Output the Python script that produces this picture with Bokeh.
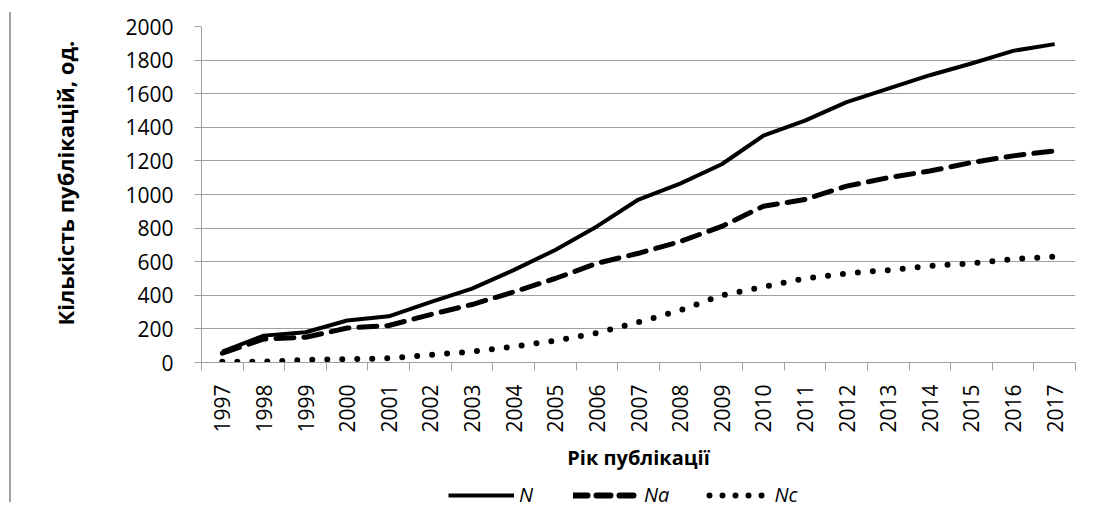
from bokeh.plotting import figure
from bokeh.models import FixedTicker, Legend, LegendItem, ColumnDataSource, Range1d, Div
from bokeh.layouts import row, column
from bokeh.embed import file_html
from bokeh.resources import INLINE
import math

years = [str(y) for y in range(1997, 2018)]
N = [65, 160, 180, 250, 275, 360, 440, 550, 670, 810, 970, 1065, 1180, 1350, 1440, 1550, 1630, 1710, 1780, 1855, 1895]
Na = [55, 140, 150, 205, 220, 285, 345, 420, 500, 590, 650, 720, 810, 930, 970, 1050, 1100, 1140, 1190, 1230, 1260]
Nc = [5, 5, 15, 20, 25, 45, 65, 95, 130, 175, 240, 310, 400, 450, 500, 530, 550, 575, 590, 615, 630]
y_ticks = list(range(0, 2001, 200))
series_names = ["N", "Na", "Nc"]

xs = [i + 0.5 for i in range(len(years))]
src = ColumnDataSource(dict(x=xs, N=N, Na=Na, Nc=Nc))

FONT = "Open Sans"
GREY = "#a0a0a0"

p = figure(width=1078, height=474, output_backend="svg", toolbar_location=None,
           x_range=Range1d(0, len(years)), y_range=Range1d(0, 2000),
           min_border_left=190, min_border_right=14, min_border_top=26, min_border_bottom=112)
p.outline_line_color = None
p.xgrid.grid_line_color = None
p.ygrid.grid_line_color = GREY
p.ygrid.grid_line_width = 1

p.line("x", "N", source=src, line_color="black", line_width=4, line_join="round")
p.line("x", "Na", source=src, line_color="black", line_width=5, line_dash="18 10", line_cap="round", line_join="round")
p.line("x", "Nc", source=src, line_color="black", line_width=6, line_dash="0 15", line_cap="round")

# x axis
p.xaxis.ticker = FixedTicker(ticks=xs, minor_ticks=list(range(len(years) + 1)))
p.xaxis.major_label_overrides = {x: y for x, y in zip(xs, years)}
p.xaxis.major_label_orientation = math.pi / 2
p.xaxis.major_tick_out = 0
p.xaxis.major_tick_in = 0
p.xaxis.minor_tick_out = 8
p.xaxis.minor_tick_in = 0
p.xaxis.minor_tick_line_color = GREY
p.xaxis.axis_line_color = GREY
p.xaxis.major_label_text_font = FONT
p.xaxis.major_label_text_font_size = "21px"
p.xaxis.major_label_text_color = "black"
p.xaxis.major_label_standoff = 14
p.xaxis.axis_label = "Рік публікації"
p.xaxis.axis_label_text_font = FONT
p.xaxis.axis_label_text_font_style = "bold"
p.xaxis.axis_label_text_font_size = "20px"
p.xaxis.axis_label_text_color = "black"
p.xaxis.axis_label_standoff = 8

# y axis
p.yaxis.ticker = FixedTicker(ticks=y_ticks, minor_ticks=[])
p.yaxis.major_tick_out = 7
p.yaxis.major_tick_in = 0
p.yaxis.major_tick_line_color = GREY
p.yaxis.axis_line_color = GREY
p.yaxis.major_label_text_font = FONT
p.yaxis.major_label_text_font_size = "21px"
p.yaxis.major_label_text_color = "black"
p.yaxis.major_label_standoff = 21
p.yaxis.axis_label = "\u00a0\u00a0\u00a0\u00a0Кількість публікацій, од."
p.yaxis.axis_label_text_font = FONT
p.yaxis.axis_label_text_font_style = "bold"
p.yaxis.axis_label_text_font_size = "22px"
p.yaxis.axis_label_text_color = "black"
p.yaxis.axis_label_standoff = 42

# legend (separate strip below the chart)
lg = figure(width=1078, height=36, output_backend="svg", toolbar_location=None,
            x_range=Range1d(0, 1), y_range=Range1d(0, 1), min_border=0)
lg.outline_line_color = None
lg.axis.visible = False
lg.grid.visible = False
hide = dict(x=[-5, -4], y=[-5, -5])
l1 = lg.line(hide["x"], hide["y"], line_color="black", line_width=4)
l2 = lg.line(hide["x"], hide["y"], line_color="black", line_width=6, line_dash="14 9", line_cap="round")
l3 = lg.line(hide["x"], hide["y"], line_color="black", line_width=6, line_dash="0 13",
             line_dash_offset=-6, line_cap="round")
legend = Legend(items=[LegendItem(label=series_names[0], renderers=[l1]),
                       LegendItem(label=series_names[1], renderers=[l2]),
                       LegendItem(label=series_names[2], renderers=[l3])],
                orientation="horizontal", location=(247, 2),
                glyph_width=66, glyph_height=24, label_text_font=FONT,
                label_text_font_style="italic", label_text_font_size="20px",
                label_text_color="black",
                label_standoff=5, spacing=34, padding=0, margin=0,
                background_fill_alpha=0, border_line_color=None)
lg.add_layout(legend, "center")

bar = Div(text="", width=11, height=490, margin=(12, 0, 0, 0),
          styles={"border-right": "2px solid " + GREY})
layout = row(bar, column(p, lg, spacing=0), spacing=0)

open("out.html", "w").write(file_html(layout, INLINE))
